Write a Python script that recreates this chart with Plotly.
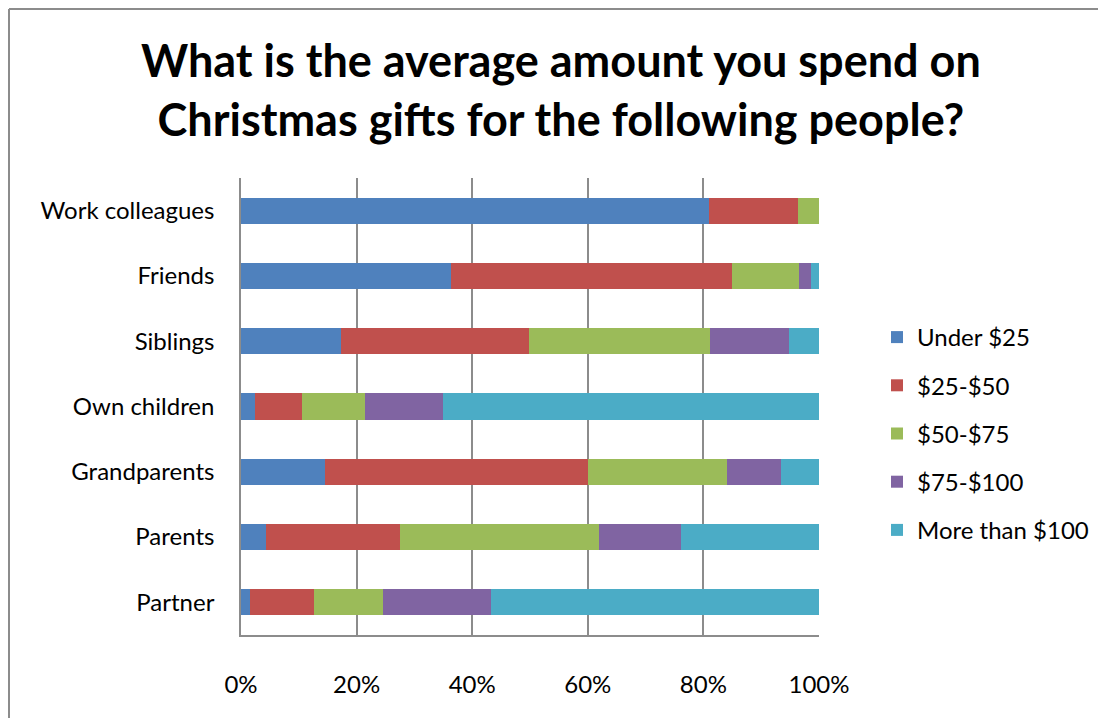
import plotly.graph_objects as go

categories = ["Work colleagues", "Friends", "Siblings", "Own children", "Grandparents", "Parents", "Partner"]
series_names = ["Under $25", "$25-$50", "$50-$75", "$75-$100", "More than $100"]
under_25 = [81.0, 36.3, 17.3, 2.5, 14.6, 4.4, 1.5]
s25_50 = [15.4, 48.7, 32.6, 8.1, 45.5, 23.1, 11.1]
s50_75 = [3.6, 11.6, 31.2, 10.9, 24.0, 34.4, 12.0]
s75_100 = [0.0, 2.0, 13.7, 13.4, 9.3, 14.3, 18.7]
over_100 = [0.0, 1.4, 5.2, 65.1, 6.6, 23.8, 56.7]
tick_vals = [0, 20, 40, 60, 80, 100]
tick_text = ["0%", "20%", "40%", "60%", "80%", "100%"]
title_text = "What is the average amount you spend on<br>Christmas gifts for the following people?"

colors = ["#4F81BD", "#C0504D", "#9BBB59", "#8064A2", "#4BACC6"]
FONT = "Lato"

OFF = 8  # page body margin
W, H = 1106 - OFF, 718 - OFF
L, R, T, B = 241 - OFF, 819 - OFF, 178 - OFF, 635 - OFF

def px_x(px):
    return (px - OFF - L) / (R - L)

def px_y(py):
    return (B - (py - OFF)) / (B - T)

fig = go.Figure()
for name, vals, col in zip(series_names, [under_25, s25_50, s50_75, s75_100, over_100], colors):
    fig.add_trace(go.Bar(
        y=categories, x=vals, name=name, orientation="h",
        marker=dict(color=col, line=dict(width=0)),
        legendgroup=name,
    ))

border = dict(color="#8C8C8C", width=2)
fig.update_layout(
    width=W, height=H,
    margin=dict(l=L, r=W - R, t=T, b=H - B, autoexpand=False),
    barmode="stack", bargap=0.6,
    paper_bgcolor="white", plot_bgcolor="white",
    font=dict(family=FONT, size=24, color="#000000"),
    showlegend=True,
    legend=dict(x=px_x(877), y=px_y(315), xanchor="left", yanchor="top",
                font=dict(family=FONT, size=24, color="#000000"),
                tracegroupgap=14, itemwidth=30, bgcolor="rgba(0,0,0,0)"),
    xaxis=dict(range=[0, 100], tickvals=tick_vals, ticktext=tick_text,
               showgrid=True, gridcolor="#8C8C8C", gridwidth=1.5,
               showline=True, linecolor="#8C8C8C", linewidth=1.5,
               ticks="", ticklabelstandoff=27, zeroline=False, fixedrange=True),
    yaxis=dict(categoryorder="array", categoryarray=categories[::-1],
               showline=True, linecolor="#8C8C8C", linewidth=1.5,
               showgrid=False, ticks="", ticklabelstandoff=20, fixedrange=True),
    shapes=[
        dict(type="line", xref="paper", yref="paper",
             x0=px_x(OFF + 1), x1=px_x(1130), y0=px_y(OFF + 1), y1=px_y(OFF + 1), line=border),
        dict(type="line", xref="paper", yref="paper",
             x0=px_x(OFF + 1), x1=px_x(OFF + 1), y0=px_y(OFF + 1), y1=px_y(740), line=border),
    ],
    annotations=[dict(text="<b>" + title_text + "</b>", xref="paper", yref="paper",
                      x=px_x(561), y=px_y(89), xanchor="center", yanchor="middle",
                      showarrow=False, align="center",
                      font=dict(family=FONT, size=45, color="#000000"))],
)

fig.write_html("out.html")
